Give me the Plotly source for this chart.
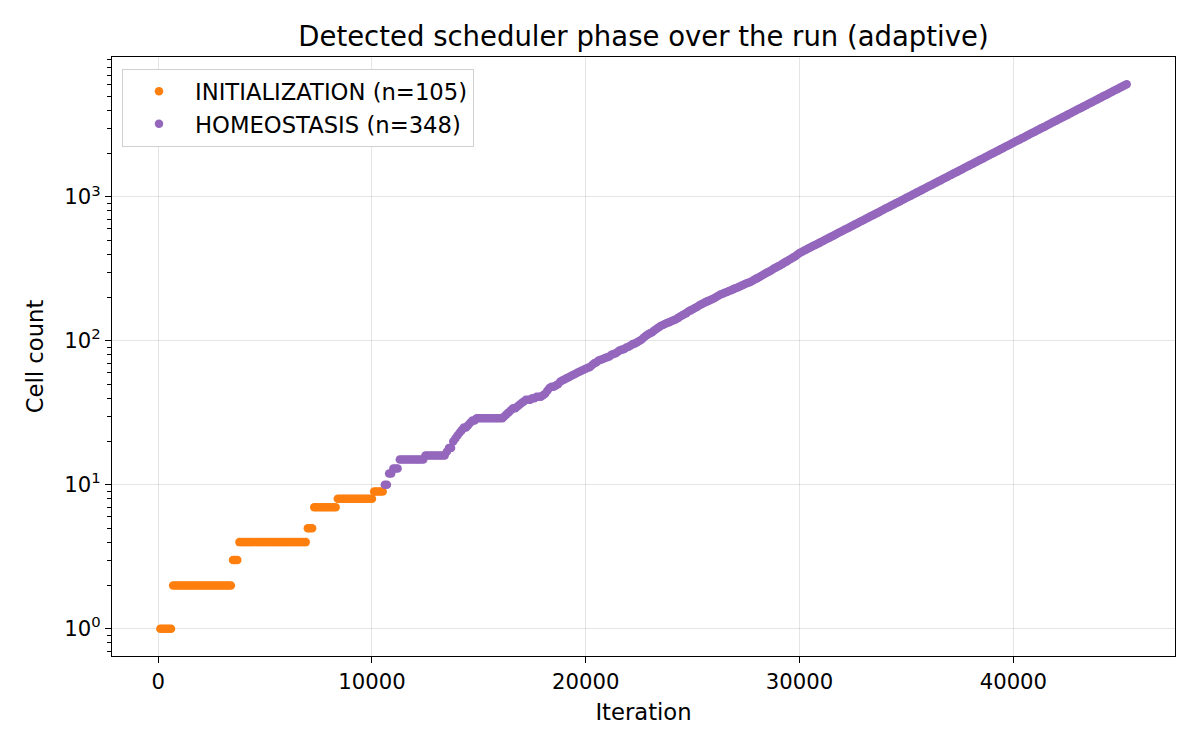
import numpy as np
import plotly.graph_objects as go

# ---- data -------------------------------------------------------------
SAMPLE_EVERY = 100  # iterations between logged samples

init_counts = (
    [1] * 6 + [2] * 28 + [3] * 3 + [4] * 32 + [5] * 3 + [7] * 11 + [8] * 17 + [9] * 5
)

homeo_counts = [
    10, 10, 12, 12,
    13, 13, 13, 15, 15, 15, 15, 15, 15, 15,
    15, 15, 15, 15, 15, 16, 16, 16, 16, 16,
    16, 16, 16, 16, 16, 17, 18, 18, 20, 21,
    22, 23, 24, 25, 25, 26, 27, 28, 28, 29,
    29, 29, 29, 29, 29, 29, 29, 29, 29, 29,
    29, 29, 30, 31, 32, 33, 34, 34, 35, 36,
    37, 38, 39, 39, 39, 40, 40, 41, 41, 41,
    42, 43, 45, 47, 48, 48, 49, 50, 52, 53,
    54, 55, 56, 57, 58, 59, 60, 61, 62, 63,
    64, 65, 66, 68, 70, 71, 73, 74, 75, 76,
    77, 78, 80, 81, 82, 84, 86, 87, 88, 90,
    91, 93, 95, 96, 98, 100, 102, 105, 108, 111,
    113, 115, 118, 121, 124, 127, 129, 131, 133, 135,
    137, 139, 141, 144, 147, 150, 153, 156, 160, 163,
    166, 169, 172, 176, 180, 183, 186, 189, 192, 195,
    198, 202, 206, 210, 213, 216, 219, 222, 225, 229,
    232, 235, 239, 243, 247, 251, 254, 257, 262, 267,
    272, 277, 282, 288, 294, 300, 305, 311, 318, 324,
    330, 336, 343, 350, 357, 365, 372, 380, 388, 398,
    408, 415, 423, 430, 438, 446, 454, 462, 470, 478,
    487, 495, 504, 513, 522, 532, 541, 551, 561, 571,
    581, 591, 602, 612, 623, 634, 646, 657, 669, 681,
    693, 705, 718, 731, 744, 757, 770, 784, 798, 812,
    827, 841, 856, 872, 887, 903, 919, 935, 952, 969,
    986, 1004, 1021, 1040, 1058, 1077, 1096, 1116, 1135, 1156,
    1176, 1197, 1218, 1240, 1262, 1285, 1308, 1331, 1355, 1379,
    1403, 1428, 1454, 1480, 1506, 1533, 1560, 1588, 1616, 1645,
    1674, 1704, 1734, 1765, 1797, 1829, 1861, 1894, 1928, 1962,
    1997, 2033, 2069, 2106, 2144, 2182, 2221, 2260, 2300, 2341,
    2383, 2425, 2469, 2513, 2557, 2603, 2649, 2697, 2745, 2793,
    2843, 2894, 2945, 2998, 3051, 3105, 3161, 3217, 3274, 3333,
    3392, 3452, 3514, 3576, 3640, 3705, 3771, 3838, 3906, 3976,
    4047, 4119, 4192, 4267, 4343, 4420, 4499, 4579, 4661, 4744,
    4828, 4914, 5002, 5091, 5181, 5273, 5367, 5463, 5560, 5659,
    5760, 5862, 5967, 6073,
]

phase_names = ["INITIALIZATION", "HOMEOSTASIS"]
phase_colors = ["#ff7f0e", "#9467bd"]

y_tickvals = [1, 10, 100, 1000]
y_ticktext = ["10<sup>0</sup>", "10<sup>1</sup>", "10<sup>2</sup>", "10<sup>3</sup>"]
x_tickvals = [0, 10000, 20000, 30000, 40000]

# sample grid (logged every SAMPLE_EVERY iterations, starting at SAMPLE_EVERY)
n_init = len(init_counts)
n_homeo = len(homeo_counts)
init_iter = [SAMPLE_EVERY * (i + 1) for i in range(n_init)]
homeo_iter = [SAMPLE_EVERY * (n_init + i + 1) for i in range(n_homeo)]

# ---- figure -----------------------------------------------------------
FONT = "DejaVu Sans, Liberation Sans, sans-serif"
FS_TICK = 21.2
FS_LAB = 22.7
fig = go.Figure()
for name, color, xs, ys in [
    (phase_names[0], phase_colors[0], init_iter, init_counts),
    (phase_names[1], phase_colors[1], homeo_iter, homeo_counts),
]:
    fig.add_trace(go.Scatter(
        x=xs, y=ys, mode="markers",
        name=f"{name} (n={len(ys)})",
        legendgroup=name,
        marker=dict(color=color, size=8.5, line=dict(width=0)),
    ))

all_x = init_iter + homeo_iter
all_y = init_counts + homeo_counts
xmin, xmax = min(all_x), max(all_x)
xpad = 0.05 * (xmax - xmin)
lymin, lymax = np.log10(min(all_y)), np.log10(max(all_y))
lpad = 0.05 * (lymax - lymin)

axis_common = dict(
    showline=True, linecolor="black", linewidth=1.3, mirror=True,
    ticks="outside", ticklen=6, tickwidth=1.3, tickcolor="black",
    showgrid=True, gridcolor="rgba(0,0,0,0.1)", gridwidth=1,
    zeroline=False,
    tickfont=dict(family=FONT, size=FS_TICK, color="black"),
)

fig.update_layout(
    width=1200, height=750,
    margin=dict(l=112, r=25, t=57, b=94),
    paper_bgcolor="white", plot_bgcolor="white",
    title=dict(text="Detected scheduler phase over the run (adaptive)",
               xref="paper", x=0.5, xanchor="center", y=0.951, yanchor="middle",
               font=dict(family=FONT, size=27.5, color="black")),
    font=dict(family=FONT, color="black"),
    legend=dict(x=0.0094, y=0.98, xanchor="left", yanchor="top",
                bgcolor="white", bordercolor="#d0d0d0", borderwidth=1,
                font=dict(family=FONT, size=FS_LAB, color="black"),
                itemsizing="trace", itemwidth=62,
                traceorder="grouped", tracegroupgap=0),
    showlegend=True,
)
fig.update_xaxes(
    **axis_common,
    range=[xmin - xpad, xmax + xpad],
    tickvals=x_tickvals, ticktext=[str(v) for v in x_tickvals],
    title=dict(text="Iteration", font=dict(family=FONT, size=FS_LAB, color="black"),
               standoff=11),
)
fig.update_yaxes(
    **axis_common,
    type="log",
    range=[lymin - lpad, lymax + lpad],
    tickvals=y_tickvals, ticktext=y_ticktext,
    minor=dict(ticks="outside", ticklen=3.5, tickwidth=1, tickcolor="black",
               showgrid=False,
               tickvals=[m * d for d in [0.1, 1, 10, 100, 1000] for m in range(2, 10)]),
    title=dict(text="Cell count", font=dict(family=FONT, size=FS_LAB, color="black"),
               standoff=14),
)

fig.write_html("out.html")
